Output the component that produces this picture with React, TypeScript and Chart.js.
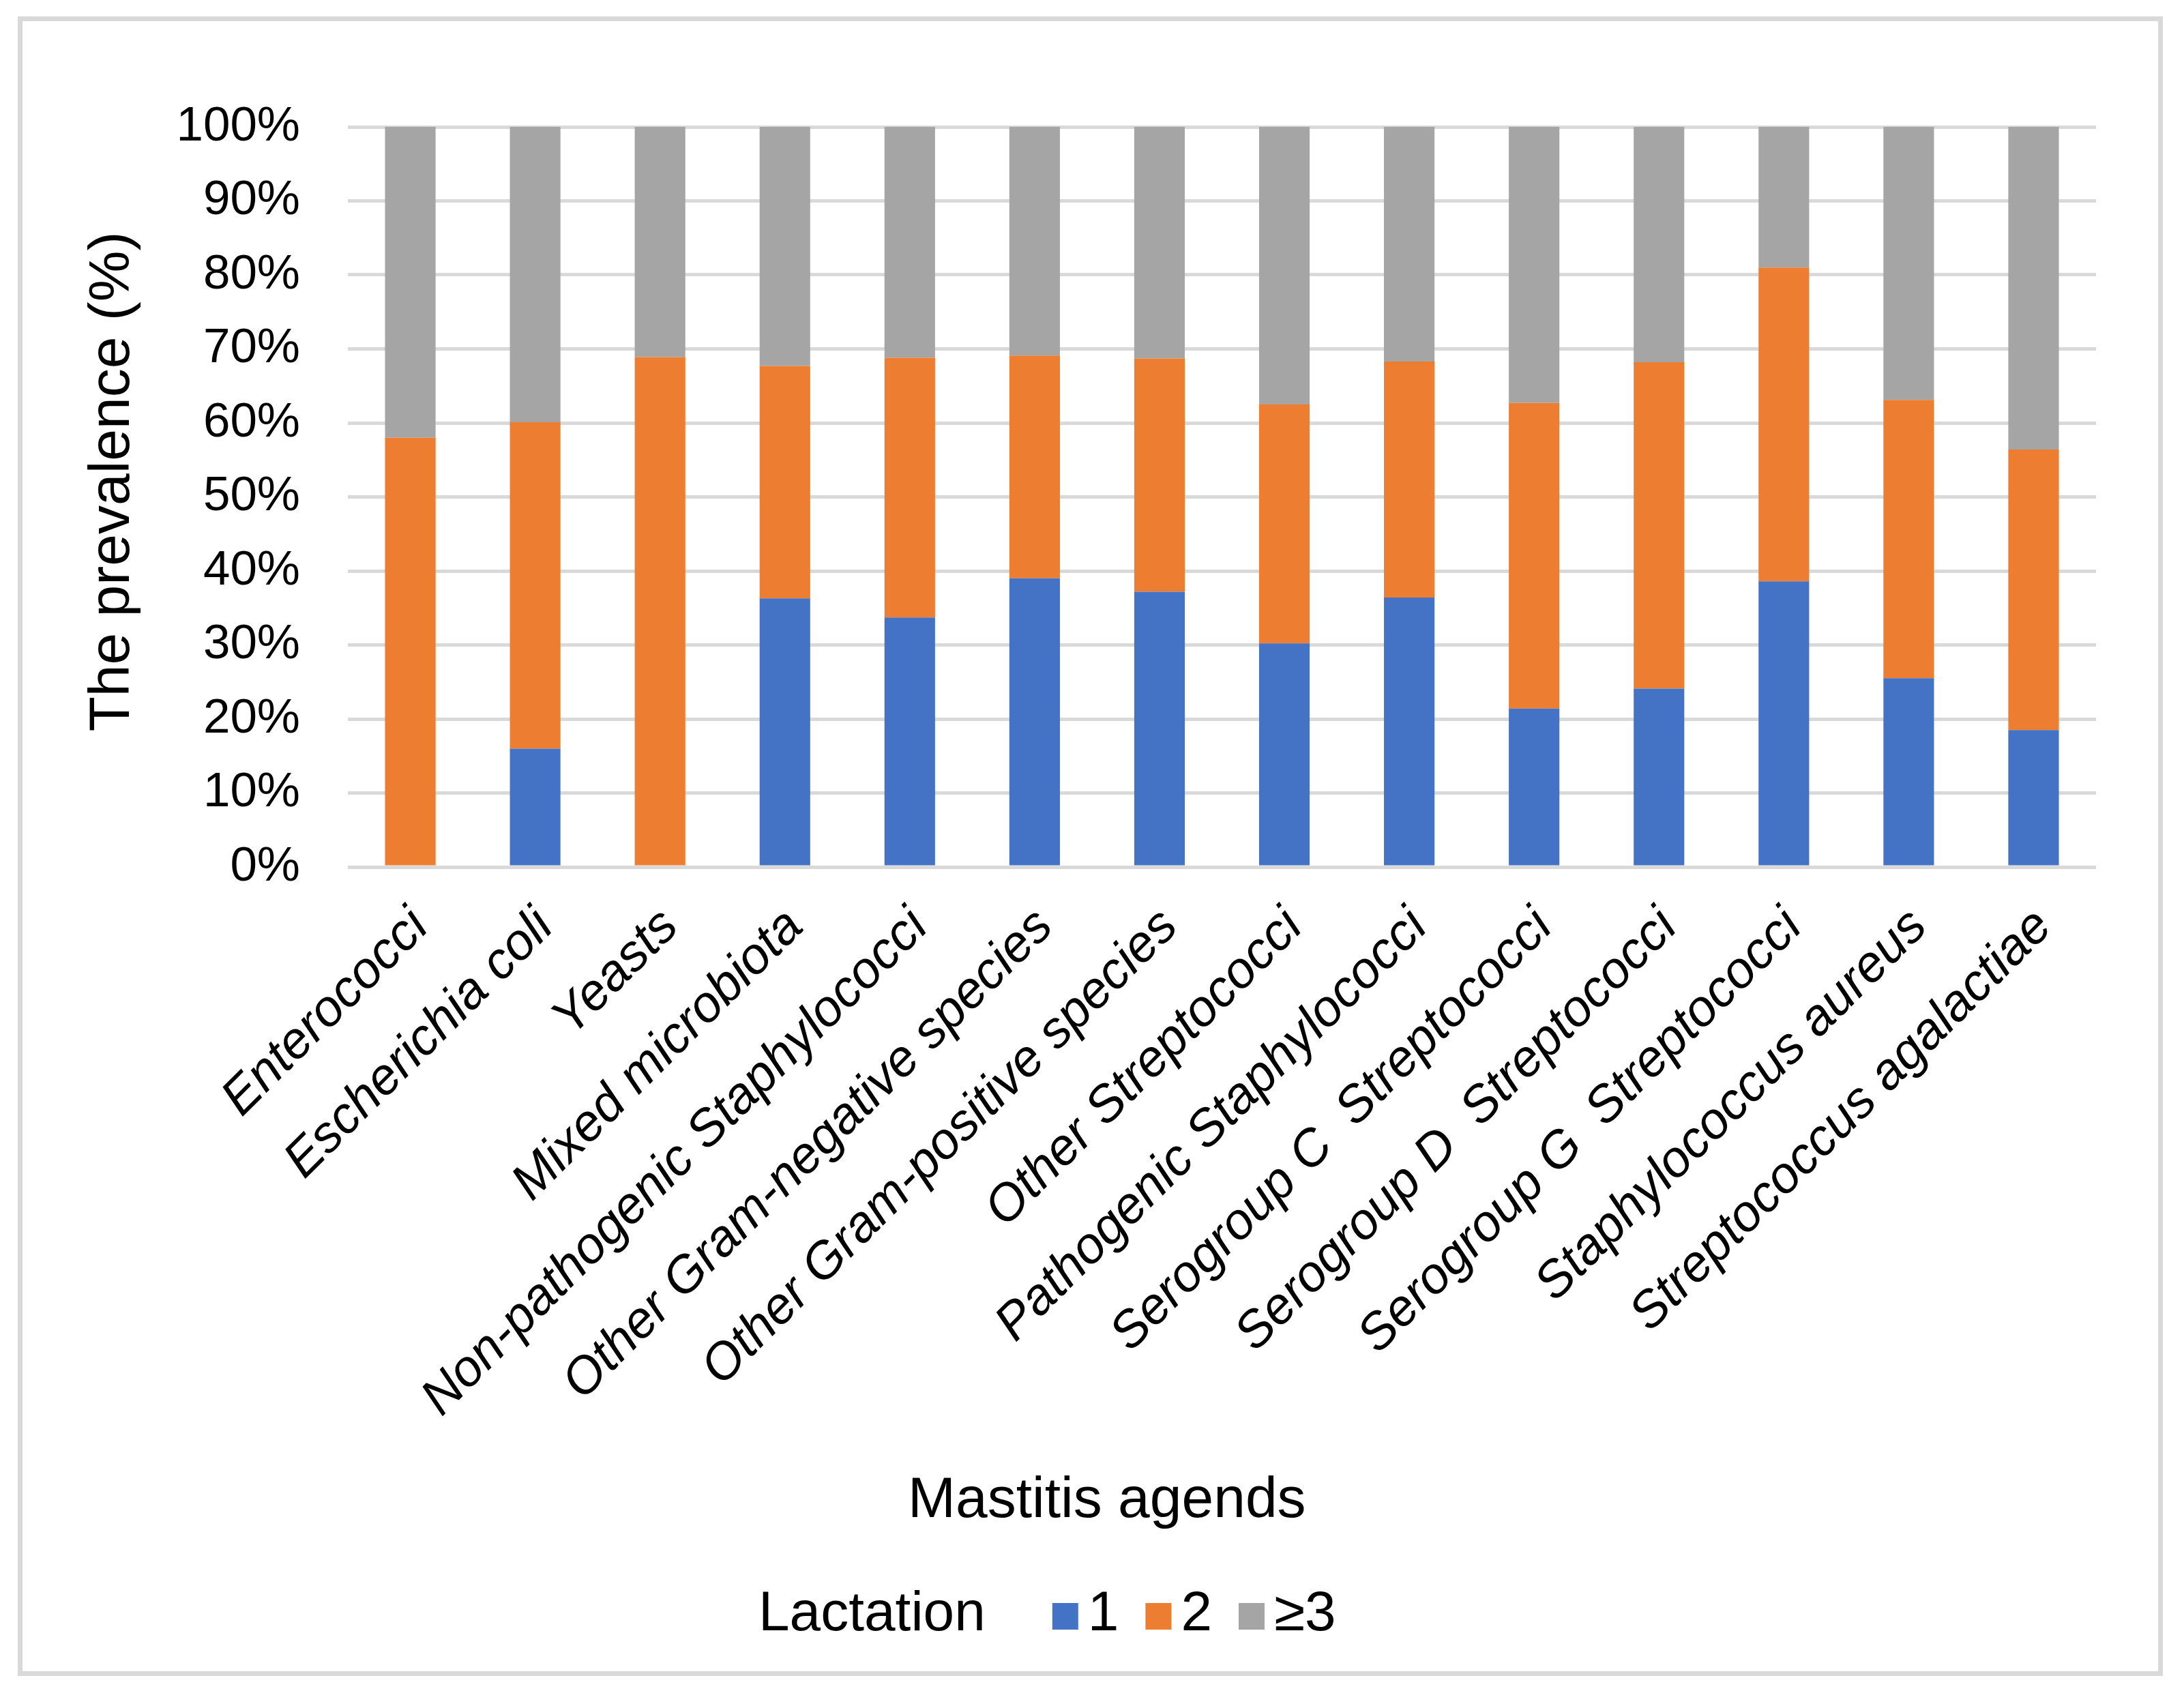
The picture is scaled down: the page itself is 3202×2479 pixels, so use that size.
import React, { useEffect, useRef } from 'react';
import { Chart, registerables } from 'chart.js';

Chart.register(...registerables);

const FONT = '"Liberation Sans", Arial, sans-serif';

const categories = [
  'Enterococci',
  'Escherichia coli',
  'Yeasts',
  'Mixed microbiota',
  'Non-pathogenic Staphylococci',
  'Other Gram-negative species',
  'Other Gram-positive species',
  'Other Streptococci',
  'Pathogenic Staphylococci',
  'Serogroup C  Streptococci',
  'Serogroup D  Streptococci',
  'Serogroup G  Streptococci',
  'Staphylococcus aureus',
  'Streptococcus agalactiae',
];

const seriesLabels = ['1', '2', '≥3'];
const seriesColors = ['#4472C4', '#ED7D31', '#A5A5A5'];

const lactation1 = [0, 16.0, 0, 36.3, 33.7, 39.0, 37.2, 30.2, 36.4, 21.4, 24.1, 38.6, 25.5, 18.5];
const lactation2 = [58.0, 44.1, 68.9, 31.4, 35.1, 30.1, 31.5, 32.3, 31.9, 41.3, 44.1, 42.4, 37.6, 37.9];
const lactation3 = [42.0, 39.9, 31.1, 32.3, 31.2, 30.9, 31.3, 37.5, 31.7, 37.3, 31.8, 19.0, 36.9, 43.6];

const yTickMin = 0;
const yTickMax = 100;
const yTickStep = 10;

const yTitle = 'The prevalence (%)';
const xTitle = 'Mastitis agends';
const legendTitle = 'Lactation';

const W = 3202;
const H = 2479;

const extraTextPlugin = {
  id: 'extraText',
  afterDraw(chart: any) {
    const ctx = chart.ctx as CanvasRenderingContext2D;
    ctx.save();
    ctx.fillStyle = '#000';
    // y axis title
    ctx.save();
    ctx.font = `84px ${FONT}`;
    ctx.textAlign = 'center';
    ctx.textBaseline = 'middle';
    ctx.translate(166, 706);
    ctx.rotate(-Math.PI / 2);
    ctx.fillText(yTitle, 0, 0);
    ctx.restore();
    ctx.textAlign = 'left';
    ctx.textBaseline = 'alphabetic';
    // x axis title
    ctx.font = `84px ${FONT}`;
    ctx.fillText(xTitle, 1331, 2224);
    // legend
    ctx.font = `82px ${FONT}`;
    const base = 2390;
    let x = 1112;
    ctx.fillText(legendTitle, x, base);
    x += ctx.measureText(legendTitle).width + 98;
    chart.data.datasets.forEach((ds: any) => {
      ctx.fillStyle = ds.backgroundColor;
      ctx.fillRect(x, 2350, 38, 39);
      x += 38 + 14;
      ctx.fillStyle = '#000';
      ctx.fillText(ds.label, x, base);
      x += ctx.measureText(ds.label).width + 39;
    });
    ctx.restore();
  },
};

export default function App() {
  const canvasRef = useRef<HTMLCanvasElement | null>(null);

  useEffect(() => {
    const canvas = canvasRef.current;
    if (!canvas) return;
    const values = [lactation1, lactation2, lactation3];
    const chart = new Chart(canvas, {
      type: 'bar',
      data: {
        labels: categories,
        datasets: seriesLabels.map((label, i) => ({
          label,
          data: values[i],
          backgroundColor: seriesColors[i],
          borderWidth: 0,
          barPercentage: 0.405,
          categoryPercentage: 1,
        })),
      },
      options: {
        animation: false,
        responsive: false,
        devicePixelRatio: 1,
        layout: { padding: { left: 60, right: 129, top: 186, bottom: 26 } },
        plugins: {
          legend: { display: false },
          tooltip: { enabled: false },
          title: { display: false },
        },
        scales: {
          x: {
            stacked: true,
            grid: { display: false, drawTicks: false },
            border: { display: false },
            ticks: {
              autoSkip: false,
              minRotation: 45,
              maxRotation: 45,
              labelOffset: 15,
              padding: 44,
              color: '#000',
              font: { family: FONT, size: 75, style: 'italic' },
            },
            afterFit: (scale: any) => {
              scale.height = H - 1271 - 26;
            },
          },
          y: {
            stacked: true,
            min: yTickMin,
            max: yTickMax,
            ticks: {
              stepSize: yTickStep,
              padding: 70,
              color: '#000',
              font: { family: FONT, size: 71 },
              callback: (v: any) => `${v}%`,
            },
            grid: { color: '#D9D9D9', lineWidth: 5, drawTicks: false },
            border: { display: false },
            title: { display: false, text: yTitle },
            afterFit: (scale: any) => {
              scale.width = 510 - 60;
            },
          },
        },
      },
      plugins: [extraTextPlugin],
    });
    return () => {
      chart.destroy();
    };
  }, []);

  return (
    <div style={{ position: 'absolute', left: 0, top: 0, width: W, height: H, background: '#fff' }}>
      <canvas ref={canvasRef} width={W} height={H} style={{ display: 'block', width: W, height: H }} />
      <div
        style={{
          position: 'absolute',
          left: 26,
          top: 24,
          width: 3171 - 26,
          height: 2457 - 24,
          border: '7px solid #D9D9D9',
          boxSizing: 'border-box',
          pointerEvents: 'none',
        }}
      />
    </div>
  );
}
